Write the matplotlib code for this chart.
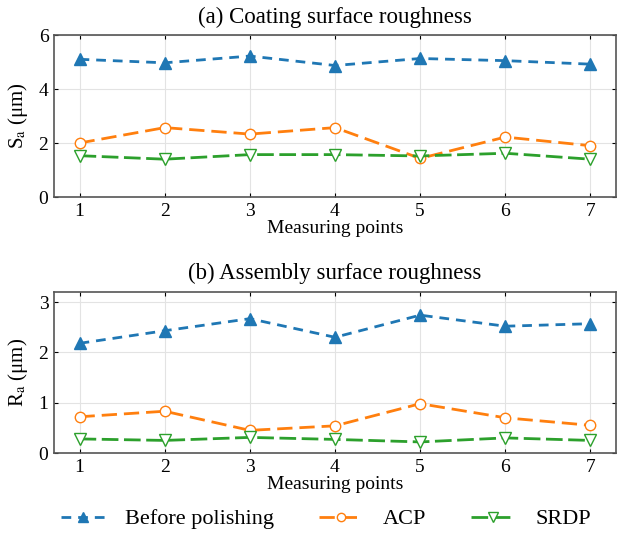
import numpy as np
import matplotlib.pyplot as plt

plt.rcParams['font.family'] = ['Liberation Serif', 'DejaVu Serif']
plt.rcParams['mathtext.fontset'] = 'stix'

points = [1, 2, 3, 4, 5, 6, 7]

# (a) coating surface roughness Sa
sa_before = [5.10, 4.97, 5.22, 4.87, 5.13, 5.05, 4.92]
sa_acp = [2.00, 2.57, 2.33, 2.57, 1.43, 2.22, 1.90]
sa_srdp = [1.53, 1.40, 1.57, 1.57, 1.52, 1.62, 1.40]

# (b) assembly surface roughness Ra
ra_before = [2.18, 2.43, 2.67, 2.30, 2.74, 2.52, 2.57]
ra_acp = [0.72, 0.83, 0.45, 0.54, 0.98, 0.70, 0.55]
ra_srdp = [0.28, 0.25, 0.31, 0.27, 0.22, 0.30, 0.25]

labels = ['Before polishing', 'ACP', 'SRDP']

fig = plt.figure(figsize=(6.23, 5.34), dpi=100)
ax1 = fig.add_axes([54/623, 1-197/534, 562/623, 162/534])
ax2 = fig.add_axes([54/623, 1-453/534, 562/623, 161/534])


def draw(ax, before, acp, srdp):
    ax.plot(points, before, linestyle=(0, (3.5, 2.5)), color='#1f77b4', lw=2,
            marker='^', ms=9, mfc='#1f77b4', label=labels[0])
    ax.plot(points, acp, linestyle=(0, (5.5, 2.5)), color='#ff7f0e', lw=2,
            marker='o', ms=7.5, mfc='white', label=labels[1])
    ax.plot(points, srdp, linestyle=(0, (6, 2)), color='#2ca02c', lw=2,
            marker='v', ms=9, mfc='white', label=labels[2])
    ax.set_xlim(0.70, 7.30)
    ax.set_xticks(points)
    ax.grid(True, color='#e3e3e3', lw=0.8)
    ax.set_axisbelow(True)
    ax.tick_params(direction='in', labelsize=14, length=3, top=True, right=True,
                   pad=4)
    for s in ax.spines.values():
        s.set_color('#555555')
        s.set_linewidth(1.2)
    ax.set_xlabel('Measuring points', fontsize=14, labelpad=0)


draw(ax1, sa_before, sa_acp, sa_srdp)
ax1.set_ylim(0, 6)
ax1.set_yticks([0, 2, 4, 6])
ax1.set_ylabel(r'S$_{\mathrm{a}}$ (μm)', fontsize=15, labelpad=6)
ax1.set_title('(a) Coating surface roughness', fontsize=16.5, pad=9)

draw(ax2, ra_before, ra_acp, ra_srdp)
ax2.set_ylim(0, 3.2)
ax2.set_yticks([0, 1, 2, 3])
ax2.set_ylabel(r'R$_{\mathrm{a}}$ (μm)', fontsize=15, labelpad=6)
ax2.set_title('(b) Assembly surface roughness', fontsize=16.5, pad=9)

handles, lbls = ax2.get_legend_handles_labels()
fig.legend(handles, lbls, loc='center', ncol=3, frameon=False,
           fontsize=16, bbox_to_anchor=(0.523, 1-519/534), columnspacing=2.0,
           handlelength=2.0, handletextpad=0.9, markerscale=0.8)

fig.savefig('out.png', dpi=100)
